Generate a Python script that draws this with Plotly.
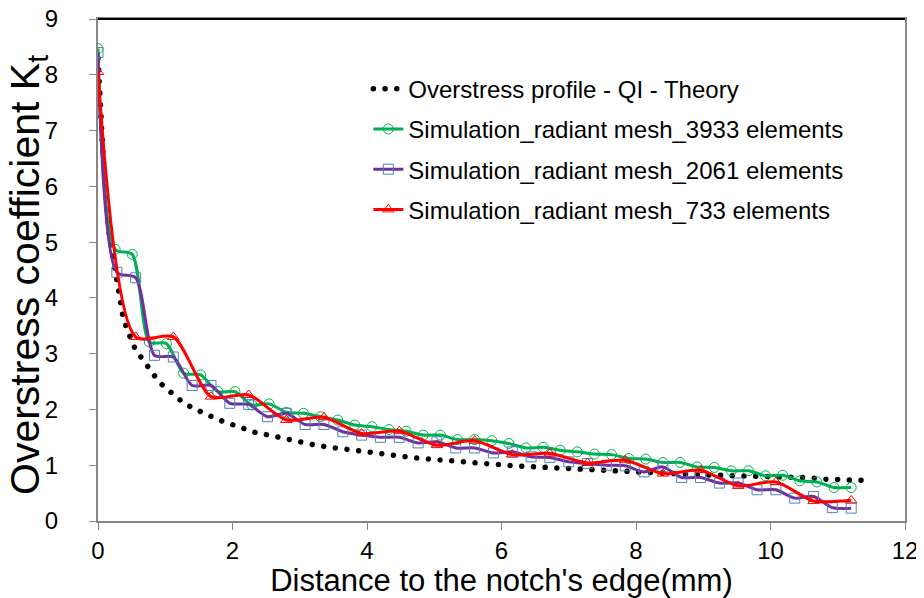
import plotly.graph_objects as go

# ---------------- data ----------------
theory_x = [0, 0.02, 0.035, 0.045, 0.055, 0.065, 0.075, 0.085, 0.095, 0.105, 0.12, 0.135, 0.15, 0.17, 0.20, 0.23,
            0.26, 0.30, 0.33, 0.37, 0.42, 0.48, 0.55, 0.65, 0.75, 0.86, 0.97, 1.11, 1.25, 1.40, 1.55, 1.71,
            1.87, 2.04, 2.20, 2.36, 2.54, 2.71, 2.88, 3.06, 3.23, 3.40, 3.58, 3.75, 3.92, 4.10, 4.27, 4.44,
            4.62, 4.79, 5.14, 5.48, 5.83, 6.18, 6.52, 6.82, 7.17, 7.51, 8.21, 8.90, 9.27, 9.79, 10.49, 10.83, 11.35]
theory_y = [8.30, 7.63, 7.41, 7.20, 6.98, 6.78, 6.58, 6.37, 6.16, 5.94, 5.73, 5.53, 5.32, 5.11, 4.90, 4.69,
            4.50, 4.08, 3.87, 3.67, 3.47, 3.27, 3.09, 2.92, 2.74, 2.57, 2.42, 2.28, 2.14, 2.03, 1.94, 1.86,
            1.78, 1.71, 1.64, 1.58, 1.54, 1.49, 1.44, 1.39, 1.36, 1.33, 1.30, 1.27, 1.25, 1.22, 1.19, 1.17,
            1.15, 1.12, 1.09, 1.05, 1.02, 0.99, 0.97, 0.95, 0.92, 0.90, 0.87, 0.83, 0.82, 0.79, 0.78, 0.75, 0.73]

mesh3933_x = [0.000, 0.255, 0.509, 0.764, 1.018, 1.273, 1.527, 1.782, 2.036, 2.291, 2.545, 2.800, 3.055,
              3.309, 3.564, 3.818, 4.073, 4.327, 4.582, 4.836, 5.091, 5.345, 5.600, 5.855, 6.109, 6.364,
              6.618, 6.873, 7.127, 7.382, 7.636, 7.891, 8.145, 8.400, 8.655, 8.909, 9.164, 9.418, 9.673,
              9.927, 10.182, 10.436, 10.691, 10.945, 11.200]
mesh3933_y = [8.47, 4.87, 4.78, 3.21, 3.18, 2.65, 2.62, 2.32, 2.32, 2.08, 2.10, 1.95, 1.93,
              1.87, 1.81, 1.72, 1.69, 1.64, 1.61, 1.54, 1.54, 1.46, 1.46, 1.44, 1.39, 1.31,
              1.32, 1.27, 1.24, 1.20, 1.19, 1.12, 1.11, 1.05, 1.05, 0.97, 0.96, 0.90, 0.90,
              0.81, 0.82, 0.72, 0.70, 0.60, 0.60]

mesh2061_x = [0.00, 0.28, 0.56, 0.84, 1.12, 1.40, 1.68, 1.96, 2.24, 2.52, 2.80, 3.08, 3.36, 3.64,
              3.92, 4.20, 4.48, 4.76, 5.04, 5.32, 5.60, 5.88, 6.16, 6.44, 6.72, 7.00, 7.28, 7.56,
              7.84, 8.12, 8.40, 8.68, 8.96, 9.24, 9.52, 9.80, 10.08, 10.36, 10.64, 10.92, 11.20]
mesh2061_y = [8.40, 4.46, 4.36, 2.97, 2.94, 2.43, 2.43, 2.11, 2.09, 1.87, 1.93, 1.73, 1.73, 1.60,
              1.54, 1.50, 1.50, 1.40, 1.42, 1.31, 1.31, 1.22, 1.24, 1.15, 1.14, 1.06, 1.03, 1.00,
              0.99, 0.88, 0.97, 0.78, 0.78, 0.68, 0.68, 0.56, 0.56, 0.41, 0.44, 0.24, 0.23]

mesh733_x = [0.00, 0.56, 1.12, 1.68, 2.24, 2.80, 3.36, 3.92, 4.48, 5.04, 5.60, 6.16, 6.72, 7.28,
             7.84, 8.40, 8.96, 9.52, 10.08, 10.64, 11.20]
mesh733_y = [8.05, 3.30, 3.30, 2.23, 2.26, 1.81, 1.86, 1.57, 1.61, 1.36, 1.44, 1.19, 1.21, 1.04,
             1.09, 0.85, 0.91, 0.63, 0.70, 0.36, 0.37]

x_ticks = [0, 2, 4, 6, 8, 10, 12]
y_ticks = [0, 1, 2, 3, 4, 5, 6, 7, 8, 9]

names = ["Overstress profile - QI - Theory",
         "Simulation_radiant mesh_3933 elements",
         "Simulation_radiant mesh_2061 elements",
         "Simulation_radiant mesh_733 elements"]
x_title = "Distance to the notch's edge(mm)"
y_title = "Overstress coefficient K<sub>t</sub>"

FONT = "Liberation Sans, Arial, sans-serif"
SMOOTH = 0.75

fig = go.Figure()
fig.add_trace(go.Scatter(x=theory_x, y=theory_y, mode="lines", name=names[0], legendgroup="a",
                         line=dict(color="black", width=5.5, dash="1px,10.7px")))
fig.add_trace(go.Scatter(x=mesh3933_x, y=mesh3933_y, mode="lines+markers", name=names[1], legendgroup="b",
                         line=dict(color="#00B050", width=3, shape="spline", smoothing=SMOOTH),
                         marker=dict(symbol="circle-open", size=10, color="#00B050", line=dict(width=1))))
fig.add_trace(go.Scatter(x=mesh2061_x, y=mesh2061_y, mode="lines+markers", name=names[2], legendgroup="c",
                         line=dict(color="#7030A0", width=3, shape="spline", smoothing=SMOOTH),
                         marker=dict(symbol="square-open", size=10, color="#4F81BD", line=dict(width=1))))
fig.add_trace(go.Scatter(x=mesh733_x, y=mesh733_y, mode="lines+markers", name=names[3], legendgroup="d",
                         line=dict(color="#FF0000", width=3, shape="spline", smoothing=SMOOTH),
                         marker=dict(symbol="triangle-up-open", size=10, color="#FF0000", line=dict(width=1))))

# the page body keeps its default 8px margin, so the figure is 8px smaller than the window
fig.update_layout(
    width=916, height=590,
    margin=dict(l=90, r=19, t=11, b=77),
    paper_bgcolor="white", plot_bgcolor="white",
    font=dict(family=FONT, color="black", size=24),
    showlegend=True,
    legend=dict(x=0.335, y=0.905, xanchor="left", yanchor="top", bgcolor="rgba(0,0,0,0)",
                font=dict(size=24, family=FONT), tracegroupgap=6, itemwidth=30),
    xaxis=dict(range=[0, 12], tickvals=x_ticks, ticks="outside", ticklen=7, tickcolor="#868686",
               showline=True, linecolor="#868686", linewidth=2, mirror=True, showgrid=False, zeroline=False,
               automargin=False, ticklabeloverflow="allow",
               tickfont=dict(size=24, family=FONT), ticklabelstandoff=0,
               title=dict(text=x_title, font=dict(size=31, family=FONT), standoff=3)),
    yaxis=dict(range=[0, 9], tickvals=y_ticks, ticks="outside", ticklen=7, tickcolor="#868686",
               showline=True, linecolor="#868686", linewidth=2, mirror=True, showgrid=False, zeroline=False,
               automargin=False, ticklabeloverflow="allow",
               tickfont=dict(size=24, family=FONT), ticklabelstandoff=26),
)
fig.add_annotation(text=y_title, xref="paper", yref="paper", x=0, y=0.5, xshift=-70, yshift=-5,
                   xanchor="center", yanchor="middle", textangle=-90, showarrow=False,
                   font=dict(size=41, family=FONT, color="black"))
fig.add_shape(type="line", xref="paper", yref="paper", x0=0, x1=1, y0=1, y1=1,
              line=dict(color="black", width=2))

post = """
var gd = document.getElementById('{plot_id}');
function roundDots() {
  var paths = [];
  var tr = gd.querySelectorAll('.scatterlayer .trace');
  if (tr.length) { tr[0].querySelectorAll('path.js-line').forEach(function(p){ paths.push(p); }); }
  var lg = gd.querySelectorAll('.legend .traces');
  if (lg.length) { lg[0].querySelectorAll('path.js-line').forEach(function(p){ paths.push(p); }); }
  paths.forEach(function(p){
    p.style.strokeLinecap = 'round';
    p.style.strokeDasharray = '0.01px,11.7px';
  });
}
roundDots();
if (gd && gd.on) { gd.on('plotly_afterplot', roundDots); }
"""

fig.write_html("out.html", post_script=post, config={"displayModeBar": False})
